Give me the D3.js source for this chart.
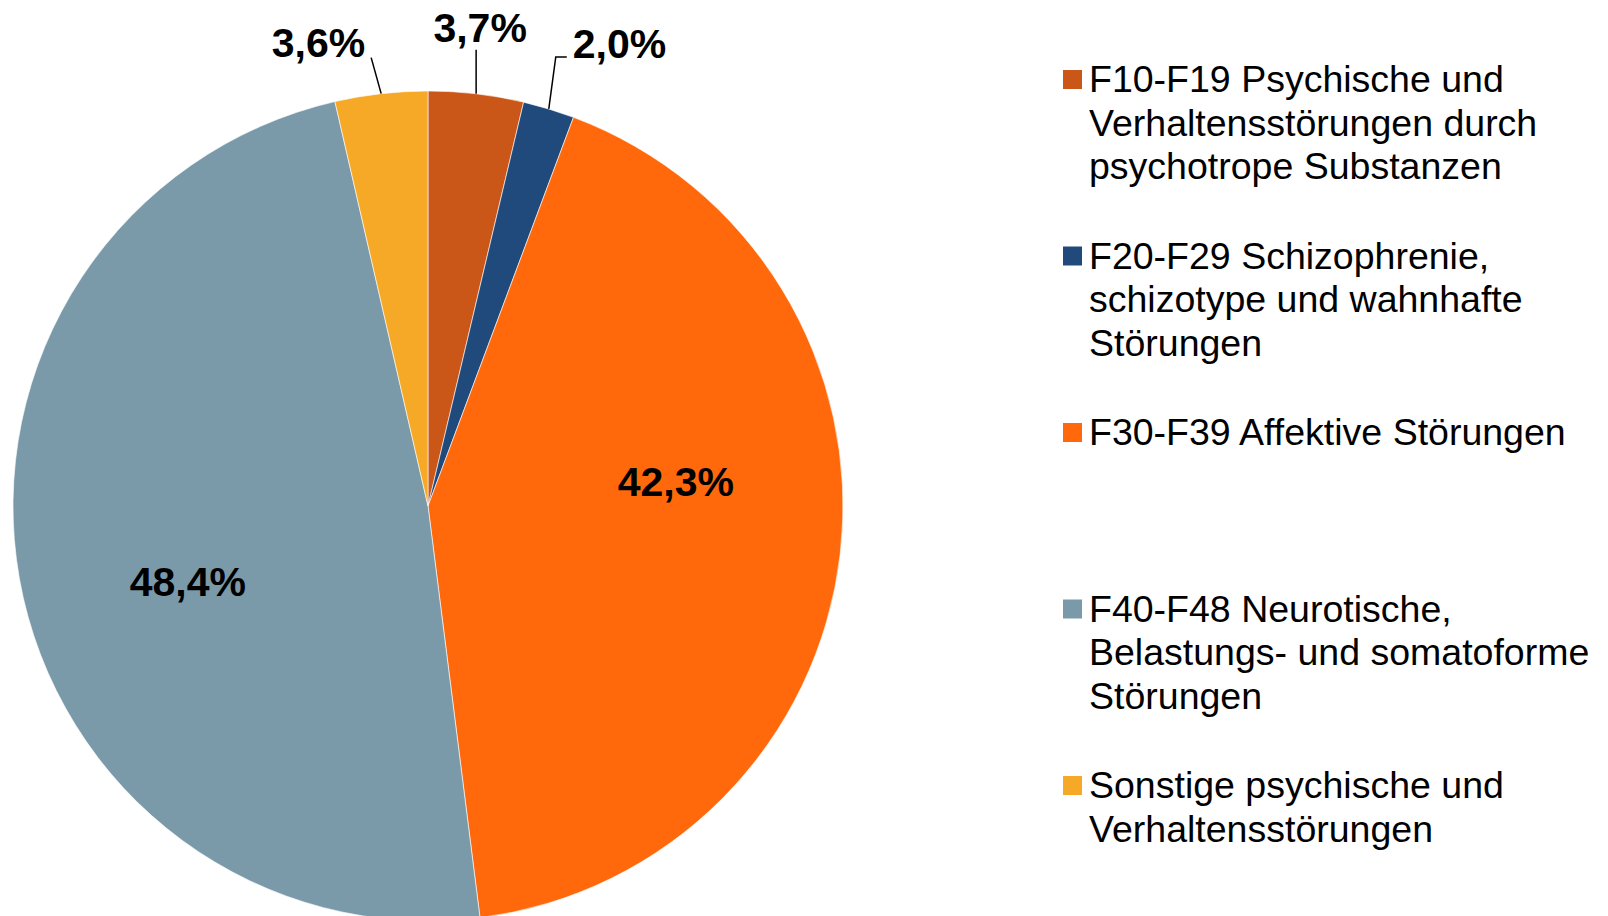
<!DOCTYPE html>
<html>
<head>
<meta charset="utf-8">
<script src="https://cdn.jsdelivr.net/npm/d3@7"></script>
<style>
    html, body { margin: 0; padding: 0; background: #fff; }
    svg { display: block; }
    svg text { font-family: Arial, "Liberation Sans", Helvetica, sans-serif; }
</style>
</head>
<body>
<svg id="chart" width="1608" height="916"></svg>
<script>
const categories = [
    ['F10-F19 Psychische und', 'Verhaltensstörungen durch', 'psychotrope Substanzen'],
    ['F20-F29 Schizophrenie,', 'schizotype und wahnhafte', 'Störungen'],
    ['F30-F39 Affektive Störungen'],
    ['F40-F48 Neurotische,', 'Belastungs- und somatoforme', 'Störungen'],
    ['Sonstige psychische und', 'Verhaltensstörungen']
];
const shares = [3.7, 2.0, 42.3, 48.4, 3.6];
const colors = ['#CA5618', '#214A7C', '#FF690B', '#7A9AAA', '#F5A926'];

// label placement per slice (outside ones get a leader line)
const labelSpots = [
    { outside: true, leader: [0, -44], anchor: 'middle', shift: [4, -8] },
    { outside: true, leader: [7, -52], hook: 11, anchor: 'start', shift: [6, 1] },
    { angleShift: -0.213, radius: 0.6 },
    { angleShift: -0.131, radius: 0.607 },
    { outside: true, leader: [-10, -36], anchor: 'end', shift: [-6, -1] }
];

const de = d3.formatLocale({ decimal: ',', thousands: '.', grouping: [3], currency: ['', ' €'] });
const fmtPct = v => de.format('.1f')(v) + '%';

const { cx, cy, radius } = { cx: 428, cy: 506, radius: 415 };
const fontStack = 'Arial, "Liberation Sans", Helvetica, sans-serif';

const render = () => {
    const svg = d3.select('#chart');
    const color = d3.scaleOrdinal().domain(d3.range(shares.length)).range(colors);

    const pie = d3.pie().sort(null).value(d => d);
    const arcs = pie(shares);
    const arc = d3.arc().innerRadius(0).outerRadius(radius);

    const g = svg.append('g').attr('transform', `translate(${cx},${cy})`);

    g.selectAll('path.slice')
        .data(arcs)
        .join('path')
        .attr('class', 'slice')
        .attr('d', arc)
        .attr('fill', (d, i) => color(i))
        .attr('stroke', '#fff')
        .attr('stroke-width', 0.6);

    const labels = g.append('g').attr('font-family', fontStack);

    arcs.forEach((d, i) => {
        const spot = labelSpots[i];
        const mid = (d.startAngle + d.endAngle) / 2;

        if (spot.outside) {
            const edge = [radius * Math.sin(mid), -radius * Math.cos(mid)];
            const bend = [edge[0] + spot.leader[0], edge[1] + spot.leader[1]];
            const pts = [edge, bend];
            if (spot.hook) pts.push([bend[0] + spot.hook, bend[1]]);
            const last = pts[pts.length - 1];

            labels.append('path')
                .attr('d', d3.line()(pts))
                .attr('fill', 'none')
                .attr('stroke', '#000')
                .attr('stroke-width', 1.5);

            labels.append('text')
                .attr('x', last[0] + spot.shift[0])
                .attr('y', last[1] + spot.shift[1])
                .attr('text-anchor', spot.anchor)
                .attr('font-size', 41)
                .attr('font-weight', 'bold')
                .text(fmtPct(d.data));
        } else {
            const a = mid + spot.angleShift;
            const r = radius * spot.radius;
            labels.append('text')
                .attr('x', r * Math.sin(a))
                .attr('y', -r * Math.cos(a))
                .attr('dy', '0.35em')
                .attr('text-anchor', 'middle')
                .attr('font-size', 41)
                .attr('font-weight', 'bold')
                .text(fmtPct(d.data));
        }
    });

    // legend
    const legendY = d3.scalePoint()
        .domain(d3.range(categories.length))
        .range([92, 798]);

    const legend = svg.append('g')
        .attr('transform', 'translate(1063,0)')
        .attr('font-family', fontStack);

    const item = legend.selectAll('g')
        .data(categories)
        .join('g')
        .attr('transform', (d, i) => `translate(0,${legendY(i)})`);

    item.append('rect')
        .attr('x', 0)
        .attr('y', -22)
        .attr('width', 19)
        .attr('height', 19)
        .attr('fill', (d, i) => color(i));

    item.append('text')
        .attr('font-size', 37.5)
        .attr('fill', '#000')
        .selectAll('tspan')
        .data(d => d)
        .join('tspan')
        .attr('x', 26)
        .attr('y', (d, j) => j * 43.5)
        .text(d => d);
};

render();
</script>
</body>
</html>
